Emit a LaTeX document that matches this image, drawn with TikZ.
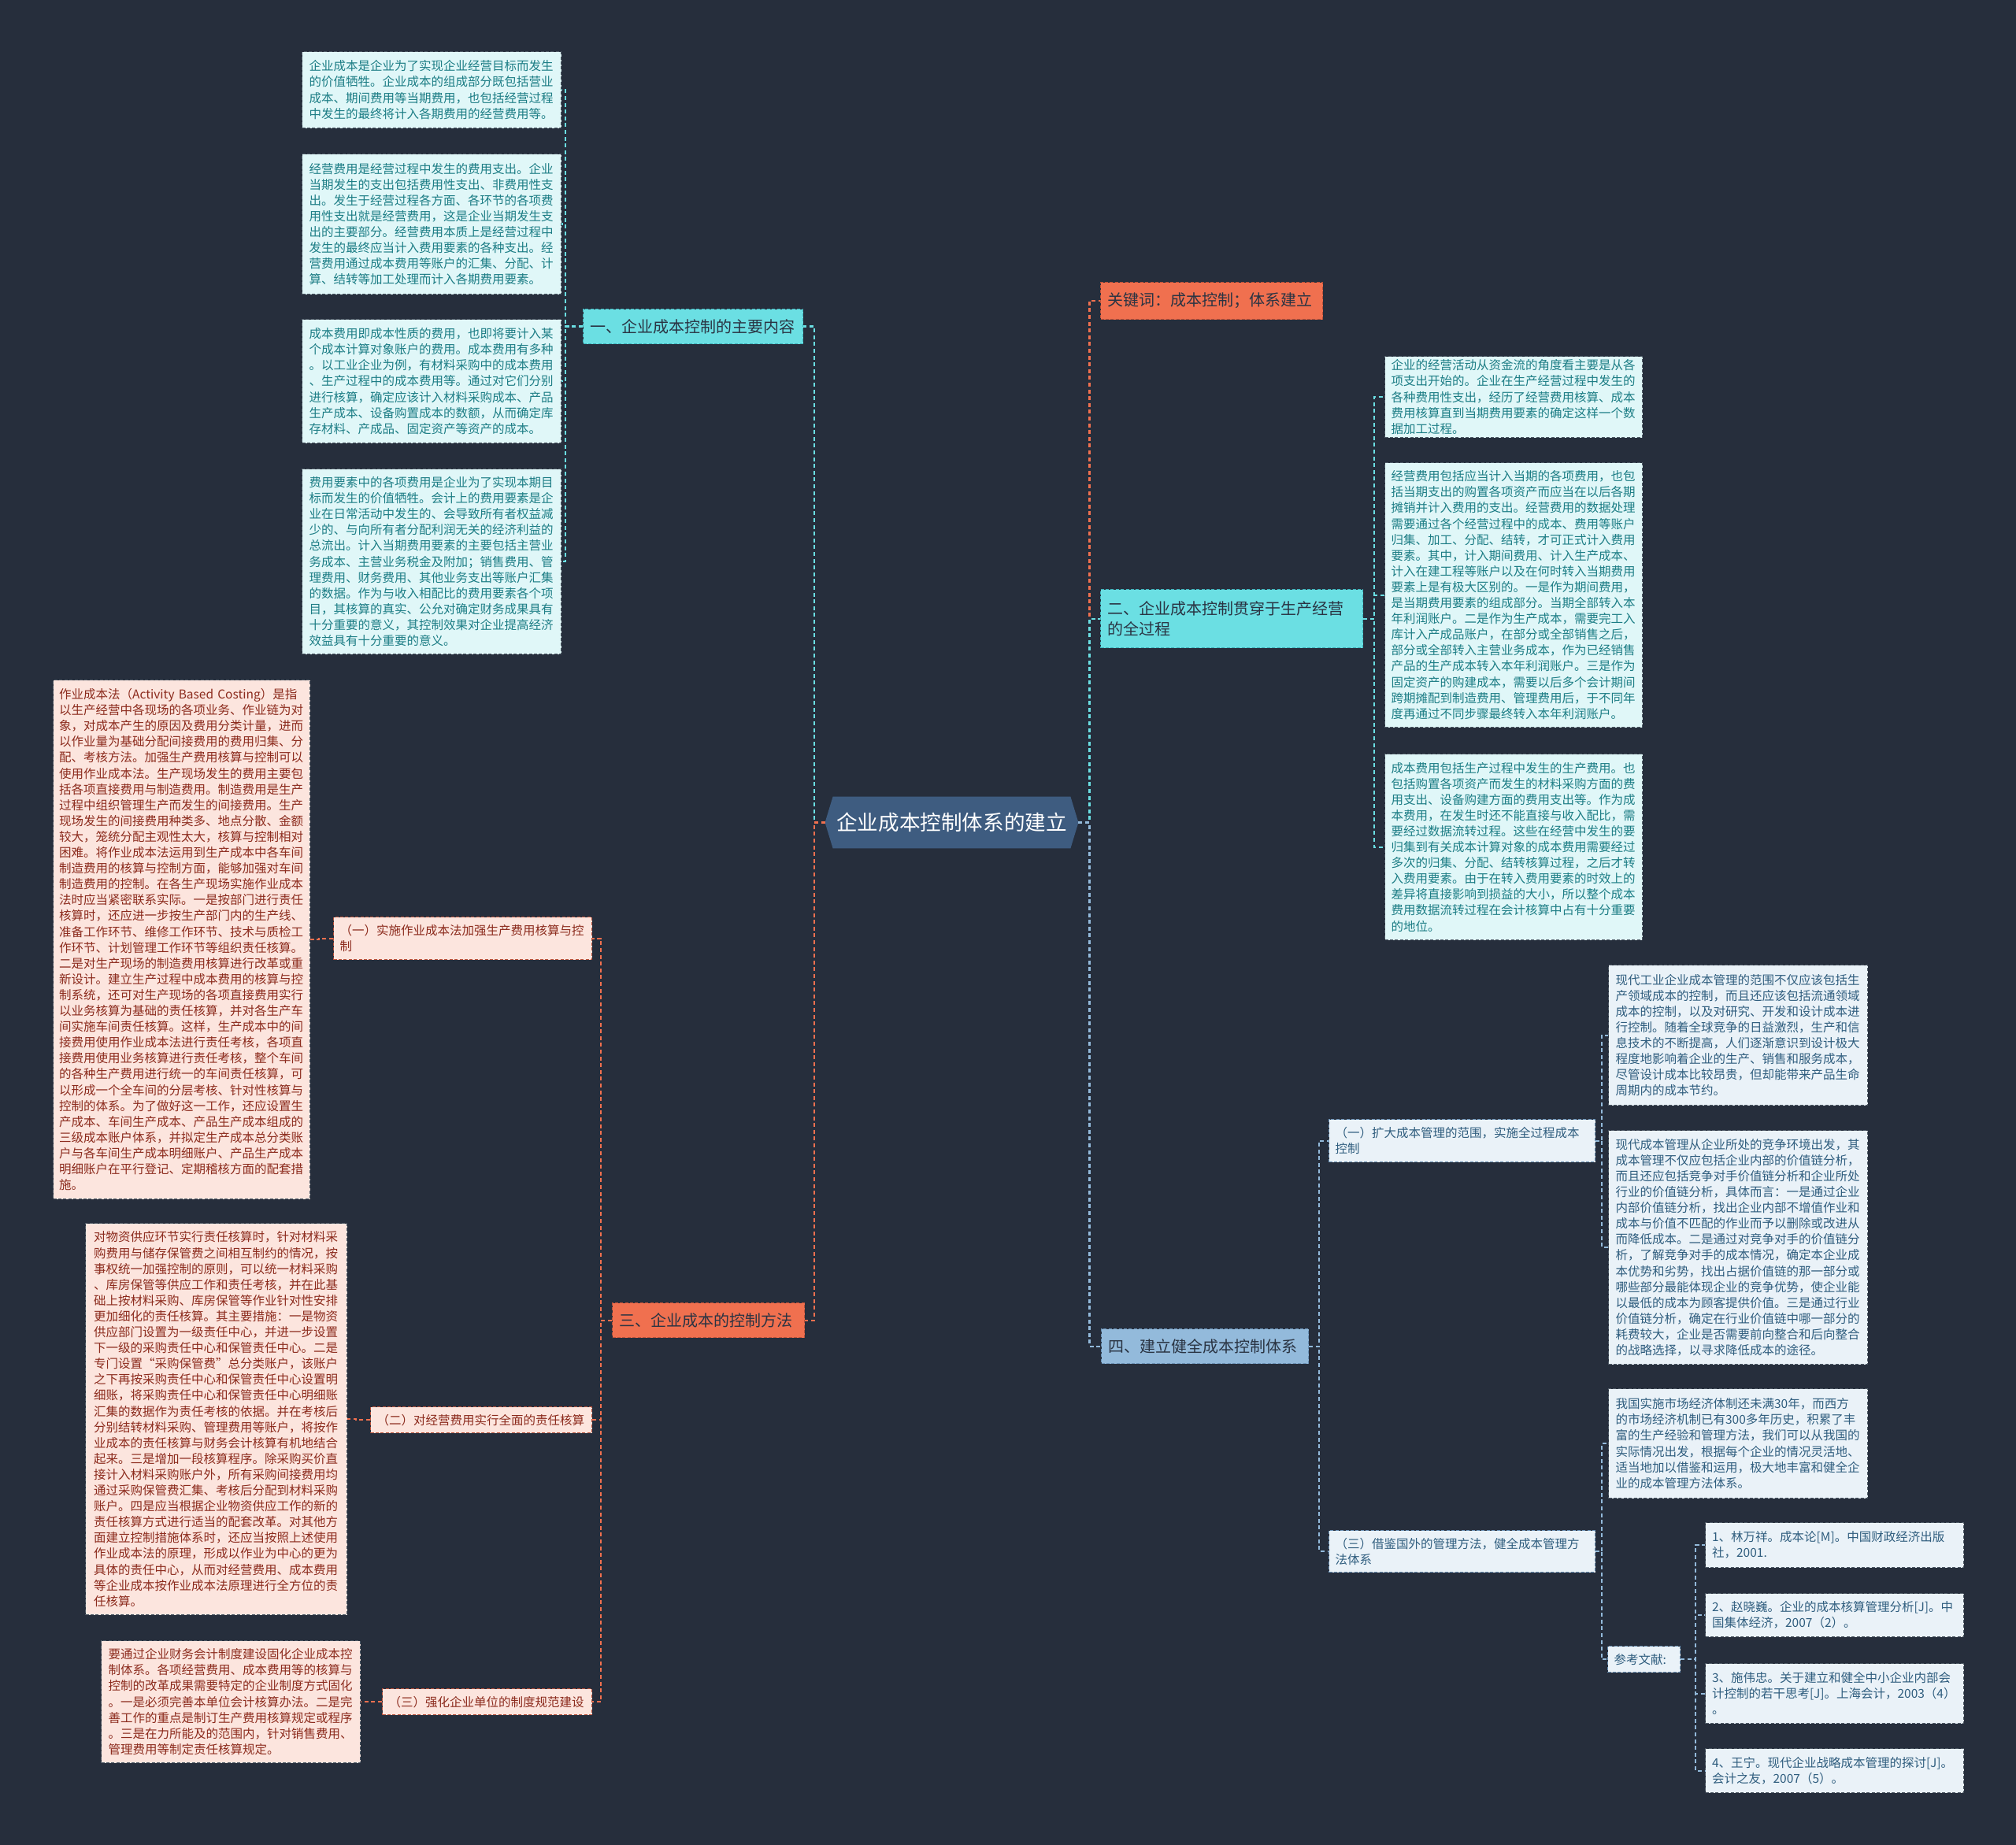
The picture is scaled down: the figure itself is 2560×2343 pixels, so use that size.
\documentclass[tikz,border=0pt]{standalone}
\usepackage{fontspec}
\setmainfont{Noto Sans CJK SC}
\usetikzlibrary{backgrounds}
\definecolor{bg}{HTML}{262E3C}
\definecolor{cfill}{HTML}{E0F7F8}
\definecolor{ctext}{HTML}{1C7D85}
\definecolor{pfill}{HTML}{FCE5DE}
\definecolor{ptext}{HTML}{8C2B1D}
\definecolor{bfill}{HTML}{EAF2F8}
\definecolor{btext}{HTML}{2F5D7E}
\definecolor{boxline}{HTML}{4E5A66}
\definecolor{lcyan}{HTML}{6BDFE3}
\definecolor{lorange}{HTML}{F0704F}
\definecolor{lblue}{HTML}{93BADB}
\definecolor{centerfill}{HTML}{3E5C80}
\definecolor{ntext}{HTML}{2A3443}
\definecolor{cyanborder}{HTML}{3FB3BA}
\definecolor{orangeborder}{HTML}{B9513A}
\definecolor{blueborder}{HTML}{6A91B5}
\begin{document}
\begin{tikzpicture}[x=0.5pt,y=-0.5pt,
  tbox/.style={anchor=north west, inner xsep=0pt, inner ysep=0pt, text width=155.5pt, align=left,
    font=\fontsize{7.75pt}{10.05pt}\selectfont, draw=boxline, line width=0.6pt, dash pattern=on 2pt off 1.2pt},
  boxC/.style={tbox, fill=cfill, text=ctext},
  boxP/.style={tbox, fill=pfill, text=ptext},
  boxB/.style={tbox, fill=bfill, text=btext},
  bignode/.style={anchor=north west, inner xsep=4.5pt, inner ysep=0pt, align=left,
    font=\fontsize{10pt}{12.75pt}\selectfont, text=ntext, line width=0.6pt, dash pattern=on 2pt off 1.2pt},
  smallnode/.style={anchor=north west, inner xsep=4pt, inner ysep=0pt, align=left,
    font=\fontsize{7.75pt}{10.05pt}\selectfont, line width=0.6pt, dash pattern=on 2pt off 1.2pt},
  lnC/.style={draw=lcyan, line width=1.1pt, dash pattern=on 2.5pt off 1.8pt},
  lnO/.style={draw=lorange, line width=1.1pt, dash pattern=on 2.5pt off 1.8pt},
  lnB/.style={draw=lblue, line width=1.1pt, dash pattern=on 2.5pt off 1.8pt},
]
\begin{pgfonlayer}{background}
\fill[bg] (0,0) rectangle (2560,2343);
\end{pgfonlayer}
\useasboundingbox (0,0) rectangle (2560,2343);

% ---------- center ----------
\node[inner sep=0pt, minimum width=160.5pt, minimum height=32.5pt, text=white,
  font=\fontsize{13.3pt}{16pt}\selectfont] (C) at (1208.5,1044.5) {企业成本控制体系的建立};
\begin{pgfonlayer}{background}
\fill[centerfill] ([xshift=5pt]C.north west) -- ([xshift=-5pt]C.north east) -- (C.east)
  -- ([xshift=-5pt]C.south east) -- ([xshift=5pt]C.south west) -- (C.west) -- cycle;
\end{pgfonlayer}

% ---------- main branches ----------
\node[bignode, fill=lcyan, draw=cyanborder, minimum width=139.5pt, minimum height=22pt, text width=130.5pt] (N1) at (740,392) {一、企业成本控制的主要内容};
\node[bignode, fill=lorange, draw=orangeborder, minimum width=141pt, minimum height=23.5pt, text width=132pt] (K) at (1397,358) {关键词：成本控制；体系建立};
\node[bignode, fill=lcyan, draw=cyanborder, minimum width=166.5pt, minimum height=37pt, text width=157.5pt] (N2) at (1397,748) {二、企业成本控制贯穿于生产经营\\的全过程};
\node[bignode, fill=lorange, draw=orangeborder, minimum width=122pt, minimum height=22pt, text width=113pt] (N3) at (777,1654) {三、企业成本的控制方法};
\node[bignode, fill=lblue, draw=blueborder, minimum width=131.5pt, minimum height=22pt, text width=122.5pt] (N4) at (1398,1687) {四、建立健全成本控制体系};

% ---------- sub nodes ----------
\node[smallnode, fill=pfill, text=ptext, draw=orangeborder, minimum width=164pt, minimum height=27pt, text width=156pt] (S31) at (423,1164) {（一）实施作业成本法加强生产费用核算与控\\制};
\node[smallnode, fill=pfill, text=ptext, draw=orangeborder, minimum width=140.5pt, minimum height=16.5pt, text width=132.5pt] (S32) at (470,1786) {（二）对经营费用实行全面的责任核算};
\node[smallnode, fill=pfill, text=ptext, draw=orangeborder, minimum width=133pt, minimum height=16.5pt, text width=125pt] (S33) at (485,2144) {（三）强化企业单位的制度规范建设};
\node[smallnode, fill=bfill, text=btext, draw=blueborder, minimum width=169pt, minimum height=27pt, text width=161pt] (S41) at (1687,1421) {（一）扩大成本管理的范围，实施全过程成本\\控制};
\node[smallnode, fill=bfill, text=btext, draw=blueborder, minimum width=169pt, minimum height=26.5pt, text width=161pt] (S43) at (1687,1943) {（三）借鉴国外的管理方法，健全成本管理方\\法体系};
\node[smallnode, fill=bfill, text=btext, draw=blueborder, minimum width=46pt, minimum height=16.5pt, text width=38pt] (RN) at (2041,2090) {参考文献:};

% ---------- text boxes: branch one ----------
\node[boxC, minimum width=164.5pt, minimum height=48.5pt] (B1) at (383,65) {企业成本是企业为了实现企业经营目标而发生\\的价值牺牲。企业成本的组成部分既包括营业\\成本、期间费用等当期费用，也包括经营过程\\中发生的最终将计入各期费用的经营费用等。};
\node[boxC, minimum width=164.5pt, minimum height=89pt] (B2) at (383,195) {经营费用是经营过程中发生的费用支出。企业\\当期发生的支出包括费用性支出、非费用性支\\出。发生于经营过程各方面、各环节的各项费\\用性支出就是经营费用，这是企业当期发生支\\出的主要部分。经营费用本质上是经营过程中\\发生的最终应当计入费用要素的各种支出。经\\营费用通过成本费用等账户的汇集、分配、计\\算、结转等加工处理而计入各期费用要素。};
\node[boxC, minimum width=164.5pt, minimum height=78.5pt] (B3) at (383,405) {成本费用即成本性质的费用，也即将要计入某\\个成本计算对象账户的费用。成本费用有多种\\。以工业企业为例，有材料采购中的成本费用\\、生产过程中的成本费用等。通过对它们分别\\进行核算，确定应该计入材料采购成本、产品\\生产成本、设备购置成本的数额，从而确定库\\存材料、产成品、固定资产等资产的成本。};
\node[boxC, minimum width=164.5pt, minimum height=117.5pt] (B4) at (383,595) {费用要素中的各项费用是企业为了实现本期目\\标而发生的价值牺牲。会计上的费用要素是企\\业在日常活动中发生的、会导致所有者权益减\\少的、与向所有者分配利润无关的经济利益的\\总流出。计入当期费用要素的主要包括主营业\\务成本、主营业务税金及附加；销售费用、管\\理费用、财务费用、其他业务支出等账户汇集\\的数据。作为与收入相配比的费用要素各个项\\目，其核算的真实、公允对确定财务成果具有\\十分重要的意义，其控制效果对企业提高经济\\效益具有十分重要的意义。};

% ---------- text boxes: branch two ----------
\node[boxC, minimum width=163.5pt, minimum height=51.5pt] (R1) at (1758,452) {企业的经营活动从资金流的角度看主要是从各\\项支出开始的。企业在生产经营过程中发生的\\各种费用性支出，经历了经营费用核算、成本\\费用核算直到当期费用要素的确定这样一个数\\据加工过程。};
\node[boxC, minimum width=163.5pt, minimum height=168pt] (R2) at (1758,587) {经营费用包括应当计入当期的各项费用，也包\\括当期支出的购置各项资产而应当在以后各期\\摊销并计入费用的支出。经营费用的数据处理\\需要通过各个经营过程中的成本、费用等账户\\归集、加工、分配、结转，才可正式计入费用\\要素。其中，计入期间费用、计入生产成本、\\计入在建工程等账户以及在何时转入当期费用\\要素上是有极大区别的。一是作为期间费用，\\是当期费用要素的组成部分。当期全部转入本\\年利润账户。二是作为生产成本，需要完工入\\库计入产成品账户，在部分或全部销售之后，\\部分或全部转入主营业务成本，作为已经销售\\产品的生产成本转入本年利润账户。三是作为\\固定资产的购建成本，需要以后多个会计期间\\跨期摊配到制造费用、管理费用后，于不同年\\度再通过不同步骤最终转入本年利润账户。};
\node[boxC, minimum width=163.5pt, minimum height=118pt] (R3) at (1758,957) {成本费用包括生产过程中发生的生产费用。也\\包括购置各项资产而发生的材料采购方面的费\\用支出、设备购建方面的费用支出等。作为成\\本费用，在发生时还不能直接与收入配比，需\\要经过数据流转过程。这些在经营中发生的要\\归集到有关成本计算对象的成本费用需要经过\\多次的归集、分配、结转核算过程，之后才转\\入费用要素。由于在转入费用要素的时效上的\\差异将直接影响到损益的大小，所以整个成本\\费用数据流转过程在会计核算中占有十分重要\\的地位。};

% ---------- text boxes: branch three ----------
\node[boxP, minimum width=163pt, minimum height=329.5pt] (L1) at (67,863) {作业成本法（Activity~Based~Costing）是指\\以生产经营中各现场的各项业务、作业链为对\\象，对成本产生的原因及费用分类计量，进而\\以作业量为基础分配间接费用的费用归集、分\\配、考核方法。加强生产费用核算与控制可以\\使用作业成本法。生产现场发生的费用主要包\\括各项直接费用与制造费用。制造费用是生产\\过程中组织管理生产而发生的间接费用。生产\\现场发生的间接费用种类多、地点分散、金额\\较大，笼统分配主观性太大，核算与控制相对\\困难。将作业成本法运用到生产成本中各车间\\制造费用的核算与控制方面，能够加强对车间\\制造费用的控制。在各生产现场实施作业成本\\法时应当紧密联系实际。一是按部门进行责任\\核算时，还应进一步按生产部门内的生产线、\\准备工作环节、维修工作环节、技术与质检工\\作环节、计划管理工作环节等组织责任核算。\\二是对生产现场的制造费用核算进行改革或重\\新设计。建立生产过程中成本费用的核算与控\\制系统，还可对生产现场的各项直接费用实行\\以业务核算为基础的责任核算，并对各生产车\\间实施车间责任核算。这样，生产成本中的间\\接费用使用作业成本法进行责任考核，各项直\\接费用使用业务核算进行责任考核，整个车间\\的各种生产费用进行统一的车间责任核算，可\\以形成一个全车间的分层考核、针对性核算与\\控制的体系。为了做好这一工作，还应设置生\\产成本、车间生产成本、产品生产成本组成的\\三级成本账户体系，并拟定生产成本总分类账\\户与各车间生产成本明细账户、产品生产成本\\明细账户在平行登记、定期稽核方面的配套措\\施。};
\node[boxP, minimum width=166pt, minimum height=248.5pt] (L2) at (108,1553) {对物资供应环节实行责任核算时，针对材料采\\购费用与储存保管费之间相互制约的情况，按\\事权统一加强控制的原则，可以统一材料采购\\、库房保管等供应工作和责任考核，并在此基\\础上按材料采购、库房保管等作业针对性安排\\更加细化的责任核算。其主要措施：一是物资\\供应部门设置为一级责任中心，并进一步设置\\下一级的采购责任中心和保管责任中心。二是\\专门设置“采购保管费”总分类账户，该账户\\之下再按采购责任中心和保管责任中心设置明\\细账，将采购责任中心和保管责任中心明细账\\汇集的数据作为责任考核的依据。并在考核后\\分别结转材料采购、管理费用等账户，将按作\\业成本的责任核算与财务会计核算有机地结合\\起来。三是增加一段核算程序。除采购买价直\\接计入材料采购账户外，所有采购间接费用均\\通过采购保管费汇集、考核后分配到材料采购\\账户。四是应当根据企业物资供应工作的新的\\责任核算方式进行适当的配套改革。对其他方\\面建立控制措施体系时，还应当按照上述使用\\作业成本法的原理，形成以作业为中心的更为\\具体的责任中心，从而对经营费用、成本费用\\等企业成本按作业成本法原理进行全方位的责\\任核算。};
\node[boxP, minimum width=164.5pt, minimum height=77.5pt] (L3) at (128,2083) {要通过企业财务会计制度建设固化企业成本控\\制体系。各项经营费用、成本费用等的核算与\\控制的改革成果需要特定的企业制度方式固化\\。一是必须完善本单位会计核算办法。二是完\\善工作的重点是制订生产费用核算规定或程序\\。三是在力所能及的范围内，针对销售费用、\\管理费用等制定责任核算规定。};

% ---------- text boxes: branch four ----------
\node[boxB, minimum width=164.5pt, minimum height=89pt] (R4) at (2042,1225) {现代工业企业成本管理的范围不仅应该包括生\\产领域成本的控制，而且还应该包括流通领域\\成本的控制，以及对研究、开发和设计成本进\\行控制。随着全球竞争的日益激烈，生产和信\\息技术的不断提高，人们逐渐意识到设计极大\\程度地影响着企业的生产、销售和服务成本，\\尽管设计成本比较昂贵，但却能带来产品生命\\周期内的成本节约。};
\node[boxB, minimum width=164.5pt, minimum height=148.5pt] (R5) at (2042,1435) {现代成本管理从企业所处的竞争环境出发，其\\成本管理不仅应包括企业内部的价值链分析，\\而且还应包括竞争对手价值链分析和企业所处\\行业的价值链分析，具体而言：一是通过企业\\内部价值链分析，找出企业内部不增值作业和\\成本与价值不匹配的作业而予以删除或改进从\\而降低成本。二是通过对竞争对手的价值链分\\析，了解竞争对手的成本情况，确定本企业成\\本优势和劣势，找出占据价值链的那一部分或\\哪些部分最能体现企业的竞争优势，使企业能\\以最低的成本为顾客提供价值。三是通过行业\\价值链分析，确定在行业价值链中哪一部分的\\耗费较大，企业是否需要前向整合和后向整合\\的战略选择，以寻求降低成本的途径。};
\node[boxB, minimum width=164.5pt, minimum height=69.5pt] (R6) at (2042,1763) {我国实施市场经济体制还未满30年，而西方\\的市场经济机制已有300多年历史，积累了丰\\富的生产经验和管理方法，我们可以从我国的\\实际情况出发，根据每个企业的情况灵活地、\\适当地加以借鉴和运用，极大地丰富和健全企\\业的成本管理方法体系。};
\node[boxB, minimum width=164pt, minimum height=28.5pt] (F1) at (2165,1933) {1、林万祥。成本论[M]。中国财政经济出版\\社，2001.};
\node[boxB, minimum width=164pt, minimum height=27.5pt] (F2) at (2165,2023) {2、赵晓巍。企业的成本核算管理分析[J]。中\\国集体经济，2007（2）。};
\node[boxB, minimum width=164pt, minimum height=38pt] (F3) at (2165,2112) {3、施伟忠。关于建立和健全中小企业内部会\\计控制的若干思考[J]。上海会计，2003（4）\\。};
\node[boxB, minimum width=164pt, minimum height=28pt] (F4) at (2165,2220) {4、王宁。现代企业战略成本管理的探讨[J]。\\会计之友，2007（5）。};

% ---------- connectors ----------
\draw[lnC] (C.west) -- ++(-14,0) |- (N1.east);
\draw[lnO] (C.west) -- ++(-14,0) |- (N3.east);
\draw[lnO] (C.east) -- ++(14,0) |- (K.west);
\draw[lnC] (C.east) -- ++(14,0) |- (N2.west);
\draw[lnB] (C.east) -- ++(14,0) |- (N4.west);

\foreach \b in {B1,B2,B3,B4} \draw[lnC] (N1.west) -- ++(-22,0) |- (\b.east);
\foreach \b in {R1,R2,R3} \draw[lnC] (N2.east) -- ++(14,0) |- (\b.west);
\foreach \b in {S31,S32,S33} \draw[lnO] (N3.west) -- ++(-14,0) |- (\b.east);
\draw[lnO] (S31.west) -- ++(-18,0) |- (L1.east);
\draw[lnO] (S32.west) -- ++(-18,0) |- (L2.east);
\draw[lnO] (S33.west) -- ++(-15,0) |- (L3.east);
\foreach \b in {S41,S43} \draw[lnB] (N4.east) -- ++(13,0) |- (\b.west);
\foreach \b in {R4,R5} \draw[lnB] (S41.east) -- ++(8,0) |- (\b.west);
\foreach \b in {R6,RN} \draw[lnB] (S43.east) -- ++(8,0) |- (\b.west);
\foreach \b in {F1,F2,F3,F4} \draw[lnB] (RN.east) -- ++(19,0) |- (\b.west);
\end{tikzpicture}
\end{document}
